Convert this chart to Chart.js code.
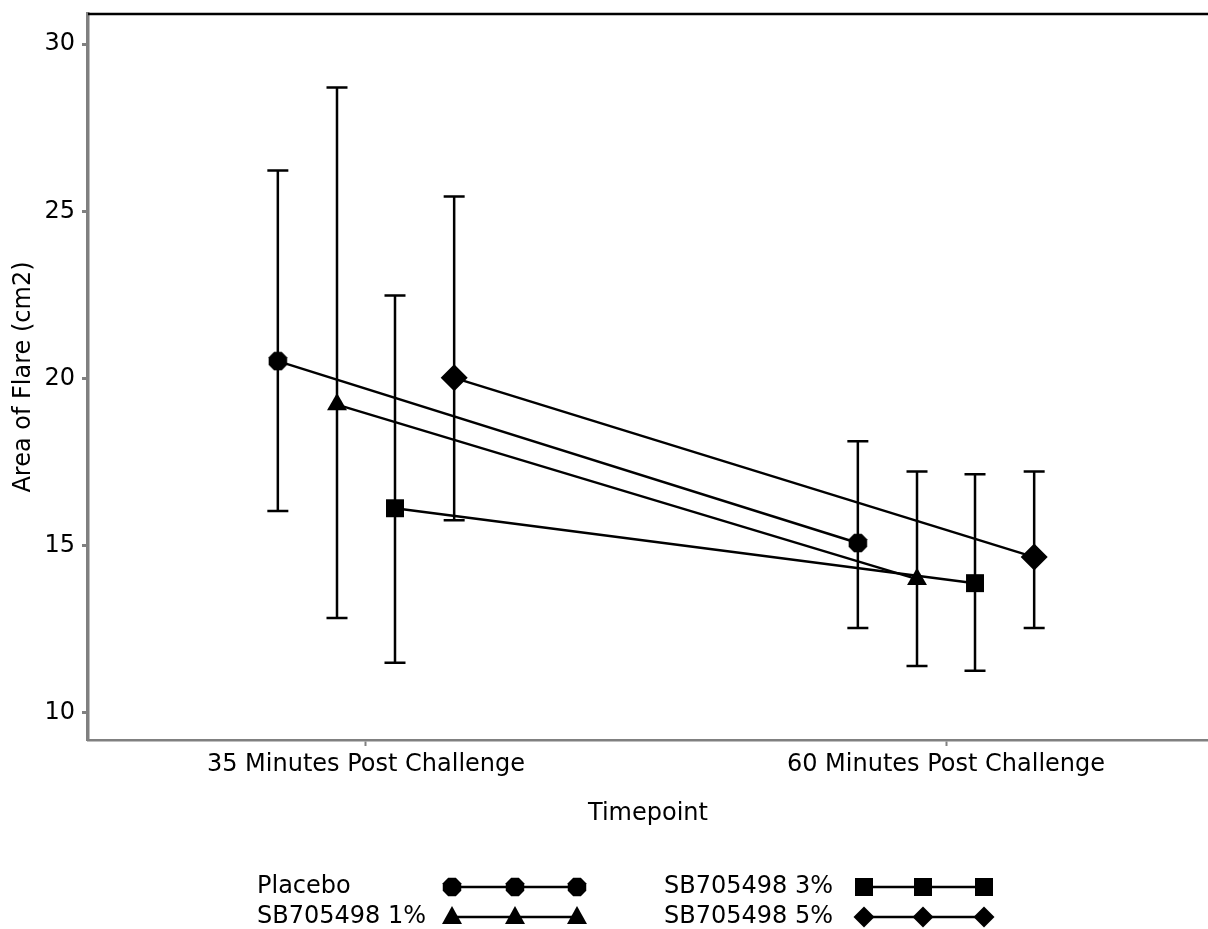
<!DOCTYPE html>
<html>
<head>
<meta charset="utf-8">
<script src="https://cdn.jsdelivr.net/npm/chart.js@4.4.1/dist/chart.umd.min.js"></script>
<style>
  html, body { margin: 0; padding: 0; background: #fff; }
  #wrap { width: 1208px; height: 929px; }
</style>
</head>
<body>
<div id="wrap"><canvas id="flareChart" width="1208" height="929"></canvas></div>
<script>
// data
var timepoints = ['35 Minutes Post Challenge', '60 Minutes Post Challenge'];
var groups = ['Placebo', 'SB705498 1%', 'SB705498 3%', 'SB705498 5%'];

var placeboMean = [20.52, 15.08];
var placeboLow  = [16.04, 12.54];
var placeboHigh = [26.22, 18.12];

var sb1Mean = [19.22, 14.0];
var sb1Low  = [12.84, 11.4];
var sb1High = [28.7, 17.22];

var sb3Mean = [16.12, 13.88];
var sb3Low  = [11.5, 11.26];
var sb3High = [22.48, 17.14];

var sb5Mean = [20.02, 14.66];
var sb5Low  = [15.76, 12.54];
var sb5High = [25.44, 17.22];

var yTicks = [10, 15, 20, 25, 30];

var FONT = '"DejaVu Sans", Verdana, sans-serif';
var FSIZE = 24;

// octagon marker for placebo
function makeOctagon(size) {
    var c = document.createElement('canvas');
    c.width = size; c.height = size;
    var g = c.getContext('2d');
    var r = size / 2;
    g.fillStyle = '#000';
    g.beginPath();
    for (var i = 0; i < 8; i++) {
        var a = Math.PI / 8 + i * Math.PI / 4;
        var px = r + Math.cos(a) * r;
        var py = r + Math.sin(a) * r;
        if (i === 0) g.moveTo(px, py); else g.lineTo(px, py);
    }
    g.closePath();
    g.fill();
    return c;
}
var octagon = makeOctagon(20);

var dodge = [-0.152, -0.05, 0.05, 0.152];
var means = [placeboMean, sb1Mean, sb3Mean, sb5Mean];
var lows = [placeboLow, sb1Low, sb3Low, sb5Low];
var highs = [placeboHigh, sb1High, sb3High, sb5High];
var styles = [octagon, 'triangle', 'rect', 'rectRot'];
var radii = [10, 11.5, 12.7, 13.5];

var datasets = [];
for (var g = 0; g < groups.length; g++) {
    var pts = [];
    for (var t = 0; t < timepoints.length; t++) {
        pts.push({ x: t + 1 + dodge[g], y: means[g][t], lo: lows[g][t], hi: highs[g][t] });
    }
    datasets.push({
        label: groups[g],
        data: pts,
        borderColor: '#000',
        backgroundColor: '#000',
        borderWidth: 2.5,
        pointStyle: styles[g],
        pointRadius: radii[g],
        pointBorderWidth: 0,
        pointBackgroundColor: '#000',
        tension: 0
    });
}

// let the plot run to the right edge of the canvas like the original
var fullWidth = {
    id: 'fullWidth',
    afterLayout: function(chart) {
        var xs = chart.scales.x;
        xs.right = chart.width;
        xs.width = xs.right - xs.left;
        xs.configure();
        chart.chartArea.right = chart.width;
        chart.chartArea.width = chart.width - chart.chartArea.left;
    }
};

// error bars drawn through the chart's own scales
var errorBars = {
    id: 'errorBars',
    beforeDatasetsDraw: function(chart) {
        var ctx = chart.ctx;
        var xs = chart.scales.x, ys = chart.scales.y;
        ctx.save();
        ctx.strokeStyle = '#000';
        ctx.lineWidth = 2.5;
        chart.data.datasets.forEach(function(ds) {
            ds.data.forEach(function(p) {
                var x = xs.getPixelForValue(p.x);
                var yl = ys.getPixelForValue(p.lo);
                var yh = ys.getPixelForValue(p.hi);
                ctx.beginPath();
                ctx.moveTo(x, yl); ctx.lineTo(x, yh);
                ctx.moveTo(x - 10.5, yl); ctx.lineTo(x + 10.5, yl);
                ctx.moveTo(x - 10.5, yh); ctx.lineTo(x + 10.5, yh);
                ctx.stroke();
            });
        });
        ctx.restore();
    }
};

function legendMarker(ctx, kind, x, y) {
    ctx.beginPath();
    if (kind === 0) {
        ctx.drawImage(octagon, x - 10, y - 10, 20, 20);
        return;
    } else if (kind === 1) {
        ctx.moveTo(x, y - 11); ctx.lineTo(x + 10, y + 7); ctx.lineTo(x - 10, y + 7);
    } else if (kind === 2) {
        ctx.rect(x - 9, y - 9, 18, 18);
    } else {
        ctx.moveTo(x, y - 10.5); ctx.lineTo(x + 10.5, y); ctx.lineTo(x, y + 10.5); ctx.lineTo(x - 10.5, y);
    }
    ctx.closePath();
    ctx.fill();
}

var frameAndLegend = {
    id: 'frameAndLegend',
    afterDraw: function(chart) {
        var ctx = chart.ctx;
        var a = chart.chartArea;
        ctx.save();
        // top frame line
        ctx.strokeStyle = '#000';
        ctx.lineWidth = 2.5;
        ctx.beginPath();
        ctx.moveTo(a.left, a.top);
        ctx.lineTo(chart.width, a.top);
        ctx.stroke();

        // legend
        var cols = [{ tx: 257, m: [452, 515, 577] }, { tx: 664, m: [864, 923, 984] }];
        var rows = [887, 917];
        var order = [[0, 0, 0], [1, 1, 0], [2, 0, 1], [3, 1, 1]]; // group, row, col
        ctx.font = FSIZE + 'px ' + FONT;
        ctx.textBaseline = 'middle';
        ctx.textAlign = 'left';
        ctx.fillStyle = '#000';
        order.forEach(function(o) {
            var c = cols[o[2]], y = rows[o[1]];
            ctx.fillText(groups[o[0]], c.tx, y);
            ctx.strokeStyle = '#000';
            ctx.lineWidth = 2.5;
            ctx.beginPath();
            ctx.moveTo(c.m[0], y); ctx.lineTo(c.m[2], y);
            ctx.stroke();
            c.m.forEach(function(mx) { legendMarker(ctx, o[0], mx, y); });
        });
        ctx.restore();
    }
};

function noPad(s) {
    s.paddingTop = 0; s.paddingBottom = 0; s.paddingLeft = 0; s.paddingRight = 0;
}

new Chart(document.getElementById('flareChart').getContext('2d'), {
    type: 'line',
    data: { datasets: datasets },
    options: {
        responsive: false,
        animation: false,
        devicePixelRatio: 1,
        layout: { padding: { top: 14, right: 0, bottom: 79, left: 0 } },
        plugins: { legend: { display: false }, tooltip: { enabled: false } },
        scales: {
            x: {
                type: 'linear',
                min: 0.5207,
                max: 2.4517,
                afterFit: function(s) { s.height = 110; noPad(s); },
                afterBuildTicks: function(s) { s.ticks = [{ value: 1 }, { value: 2 }]; },
                ticks: {
                    color: '#000',
                    font: { family: FONT, size: FSIZE },
                    padding: 4,
                    maxRotation: 0,
                    autoSkip: false,
                    callback: function(v) { return timepoints[Math.round(v) - 1]; }
                },
                grid: { drawOnChartArea: false, drawTicks: true, tickLength: 6, tickColor: '#808080', tickWidth: 2 },
                border: { color: '#808080', width: 2.5 },
                title: {
                    display: true,
                    text: 'Timepoint',
                    color: '#000',
                    font: { family: FONT, size: FSIZE },
                    padding: { top: 0, bottom: 22 }
                }
            },
            y: {
                min: 9.19,
                max: 30.9,
                afterFit: function(s) { s.width = 88; noPad(s); },
                afterBuildTicks: function(s) { s.ticks = yTicks.map(function(v) { return { value: v }; }); },
                ticks: {
                    color: '#000',
                    font: { family: FONT, size: FSIZE },
                    padding: 7
                },
                grid: { drawOnChartArea: false, drawTicks: true, tickLength: 6, tickColor: '#808080', tickWidth: 3 },
                border: { color: '#808080', width: 3.5 },
                title: {
                    display: true,
                    text: 'Area of Flare (cm2)',
                    color: '#000',
                    font: { family: FONT, size: FSIZE },
                    padding: { top: 9, bottom: 0 }
                }
            }
        }
    },
    plugins: [fullWidth, errorBars, frameAndLegend]
});
</script>
</body>
</html>
